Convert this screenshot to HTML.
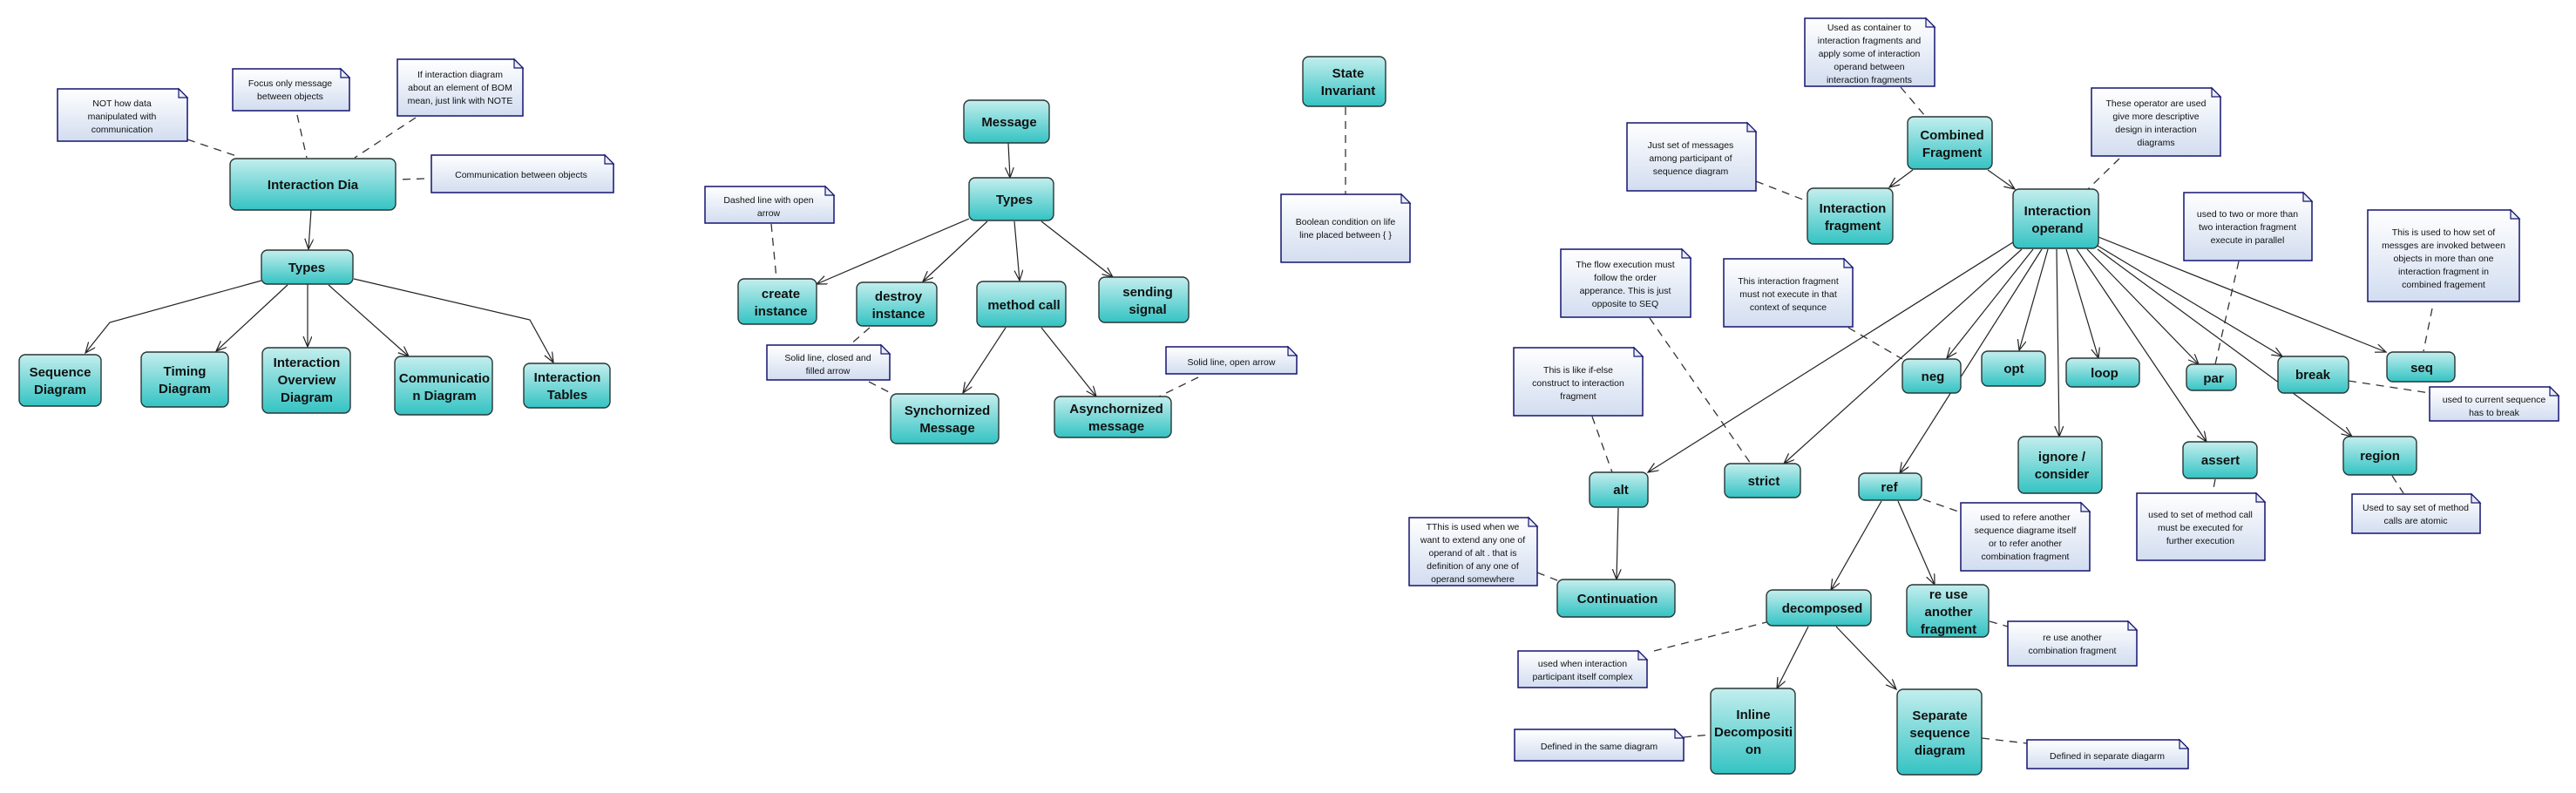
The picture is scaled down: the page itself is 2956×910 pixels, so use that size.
<!DOCTYPE html>
<html><head><meta charset="utf-8"><style>
html,body{margin:0;padding:0;background:#fff;}
svg{display:block;}
.nt{font-family:"Liberation Sans",Arial,sans-serif;font-weight:bold;font-size:15px;fill:#111;text-anchor:middle;}
.tt{font-family:"Liberation Sans",Arial,sans-serif;font-size:10.5px;fill:#111;text-anchor:middle;}
.ln{stroke:#222;stroke-width:1.2;fill:none;marker-end:url(#ar);}
.ds{stroke:#333;stroke-width:1.3;fill:none;stroke-dasharray:9 7;}
.nd{fill:url(#ng);stroke:#2a3535;stroke-width:1.4;}
.no{fill:url(#og);stroke:#141470;stroke-width:1.5;}
.fo{fill:#e8eef8;stroke:#141470;stroke-width:1.2;}
</style></head><body>
<svg width="2956" height="910" viewBox="0 0 2956 910" xmlns="http://www.w3.org/2000/svg">
<defs>
<linearGradient id="ng" x1="0" y1="0" x2="0" y2="1"><stop offset="0" stop-color="#c4eeee"/><stop offset="1" stop-color="#34c3c3"/></linearGradient>
<linearGradient id="og" x1="0" y1="0" x2="0" y2="1"><stop offset="0" stop-color="#ffffff"/><stop offset="1" stop-color="#d2ddf0"/></linearGradient>
<marker id="ar" markerUnits="userSpaceOnUse" markerWidth="14" markerHeight="12" refX="12" refY="5" orient="auto"><path d="M0,0 L12,5 L0,10" fill="none" stroke="#222" stroke-width="1.2"/></marker>
</defs>

<!-- solid connectors -->
<line class="ln" x1="357" y1="241" x2="354" y2="286"/>
<polyline class="ln" points="300,322 126,370 98,405"/>
<line class="ln" x1="330" y1="327" x2="248" y2="403"/>
<line class="ln" x1="353" y1="326" x2="353" y2="398"/>
<line class="ln" x1="377" y1="327" x2="469" y2="409"/>
<polyline class="ln" points="406,320 608,367 635,416"/>
<line class="ln" x1="1157" y1="164" x2="1159" y2="204"/>
<line class="ln" x1="1112" y1="251" x2="937" y2="326"/>
<line class="ln" x1="1133" y1="254" x2="1059" y2="323"/>
<line class="ln" x1="1164" y1="254" x2="1170" y2="322"/>
<line class="ln" x1="1195" y1="254" x2="1277" y2="318"/>
<line class="ln" x1="1154" y1="376" x2="1105" y2="451"/>
<line class="ln" x1="1195" y1="376" x2="1258" y2="455"/>
<line class="ln" x1="2195" y1="195" x2="2168" y2="215"/>
<line class="ln" x1="2281" y1="195" x2="2312" y2="217"/>
<line class="ln" x1="2408" y1="272" x2="2738" y2="404"/>
<line class="ln" x1="2407" y1="282" x2="2619" y2="409"/>
<line class="ln" x1="2407" y1="286" x2="2699" y2="501"/>
<line class="ln" x1="2395" y1="286" x2="2523" y2="418"/>
<line class="ln" x1="2383" y1="286" x2="2532" y2="507"/>
<line class="ln" x1="2371" y1="286" x2="2408" y2="411"/>
<line class="ln" x1="2360" y1="286" x2="2363" y2="501"/>
<line class="ln" x1="2350" y1="286" x2="2317" y2="402"/>
<line class="ln" x1="2333" y1="286" x2="2234" y2="411"/>
<line class="ln" x1="2343" y1="286" x2="2180" y2="543"/>
<line class="ln" x1="2310" y1="278" x2="1891" y2="542"/>
<line class="ln" x1="2320" y1="286" x2="2047" y2="532"/>
<line class="ln" x1="1857" y1="583" x2="1855" y2="665"/>
<line class="ln" x1="2159" y1="575" x2="2101" y2="677"/>
<line class="ln" x1="2178" y1="575" x2="2220" y2="671"/>
<line class="ln" x1="2075" y1="719" x2="2039" y2="790"/>
<line class="ln" x1="2107" y1="719" x2="2176" y2="791"/>

<!-- dashed connectors -->
<line class="ds" x1="215" y1="160" x2="274" y2="180"/>
<line class="ds" x1="341" y1="132" x2="352" y2="181"/>
<line class="ds" x1="477" y1="135" x2="407" y2="181"/>
<line class="ds" x1="487" y1="205" x2="456" y2="206"/>
<line class="ds" x1="885" y1="257" x2="891" y2="320"/>
<line class="ds" x1="998" y1="376" x2="975" y2="396"/>
<line class="ds" x1="997" y1="438" x2="1024" y2="452"/>
<line class="ds" x1="1375" y1="433" x2="1330" y2="455"/>
<line class="ds" x1="1544" y1="123" x2="1544" y2="223"/>
<line class="ds" x1="2181" y1="100" x2="2209" y2="133"/>
<line class="ds" x1="2015" y1="208" x2="2074" y2="231"/>
<line class="ds" x1="2432" y1="182" x2="2396" y2="217"/>
<line class="ds" x1="2569" y1="300" x2="2542" y2="418"/>
<line class="ds" x1="2791" y1="354" x2="2781" y2="403"/>
<line class="ds" x1="2695" y1="437" x2="2788" y2="451"/>
<line class="ds" x1="2542" y1="550" x2="2539" y2="566"/>
<line class="ds" x1="2745" y1="546" x2="2758" y2="566"/>
<line class="ds" x1="2207" y1="573" x2="2250" y2="588"/>
<line class="ds" x1="1893" y1="365" x2="2009" y2="532"/>
<line class="ds" x1="2121" y1="376" x2="2183" y2="412"/>
<line class="ds" x1="1827" y1="478" x2="1850" y2="542"/>
<line class="ds" x1="1764" y1="657" x2="1787" y2="666"/>
<line class="ds" x1="1898" y1="747" x2="2027" y2="714"/>
<line class="ds" x1="2283" y1="713" x2="2304" y2="719"/>
<line class="ds" x1="1932" y1="846" x2="1963" y2="843"/>
<line class="ds" x1="2274" y1="847" x2="2326" y2="853"/>

<!-- nodes -->
<g>
<rect class="nd" x="264" y="182" width="190" height="59" rx="7"/><text class="nt" x="359" y="217">Interaction Dia</text>
<rect class="nd" x="300" y="287" width="105" height="39" rx="7"/><text class="nt" x="352" y="312">Types</text>
<rect class="nd" x="22" y="407" width="94" height="59" rx="7"/><text class="nt" x="69" y="432">Sequence</text><text class="nt" x="69" y="452">Diagram</text>
<rect class="nd" x="162" y="404" width="100" height="63" rx="7"/><text class="nt" x="212" y="431">Timing</text><text class="nt" x="212" y="451">Diagram</text>
<rect class="nd" x="301" y="399" width="101" height="75" rx="7"/><text class="nt" x="352" y="421">Interaction</text><text class="nt" x="352" y="441">Overview</text><text class="nt" x="352" y="461">Diagram</text>
<rect class="nd" x="453" y="409" width="112" height="67" rx="7"/><text class="nt" x="510" y="439">Communicatio</text><text class="nt" x="510" y="459">n Diagram</text>
<rect class="nd" x="601" y="417" width="99" height="51" rx="7"/><text class="nt" x="651" y="438">Interaction</text><text class="nt" x="651" y="458">Tables</text>

<rect class="nd" x="1106" y="115" width="98" height="49" rx="7"/><text class="nt" x="1158" y="145">Message</text>
<rect class="nd" x="1112" y="204" width="97" height="49" rx="7"/><text class="nt" x="1164" y="234">Types</text>
<rect class="nd" x="1495" y="65" width="95" height="57" rx="7"/><text class="nt" x="1547" y="89">State</text><text class="nt" x="1547" y="109">Invariant</text>
<rect class="nd" x="847" y="320" width="90" height="52" rx="7"/><text class="nt" x="896" y="342">create</text><text class="nt" x="896" y="362">instance</text>
<rect class="nd" x="983" y="324" width="92" height="50" rx="7"/><text class="nt" x="1031" y="345">destroy</text><text class="nt" x="1031" y="365">instance</text>
<rect class="nd" x="1121" y="323" width="102" height="52" rx="7"/><text class="nt" x="1175" y="355">method call</text>
<rect class="nd" x="1261" y="318" width="103" height="52" rx="7"/><text class="nt" x="1317" y="340">sending</text><text class="nt" x="1317" y="360">signal</text>
<rect class="nd" x="1022" y="452" width="124" height="57" rx="7"/><text class="nt" x="1087" y="476">Synchornized</text><text class="nt" x="1087" y="496">Message</text>
<rect class="nd" x="1210" y="455" width="134" height="47" rx="7"/><text class="nt" x="1281" y="474">Asynchornized</text><text class="nt" x="1281" y="494">message</text>

<rect class="nd" x="2189" y="134" width="97" height="60" rx="7"/><text class="nt" x="2240" y="160">Combined</text><text class="nt" x="2240" y="180">Fragment</text>
<rect class="nd" x="2074" y="216" width="98" height="64" rx="7"/><text class="nt" x="2126" y="244">Interaction</text><text class="nt" x="2126" y="264">fragment</text>
<rect class="nd" x="2310" y="217" width="98" height="68" rx="7"/><text class="nt" x="2361" y="247">Interaction</text><text class="nt" x="2361" y="267">operand</text>
<rect class="nd" x="2183" y="412" width="67" height="39" rx="7"/><text class="nt" x="2218" y="437">neg</text>
<rect class="nd" x="2274" y="403" width="73" height="40" rx="7"/><text class="nt" x="2311" y="428">opt</text>
<rect class="nd" x="2371" y="411" width="84" height="33" rx="7"/><text class="nt" x="2415" y="433">loop</text>
<rect class="nd" x="2509" y="418" width="57" height="30" rx="7"/><text class="nt" x="2540" y="439">par</text>
<rect class="nd" x="2614" y="409" width="81" height="42" rx="7"/><text class="nt" x="2654" y="435">break</text>
<rect class="nd" x="2739" y="404" width="78" height="34" rx="7"/><text class="nt" x="2779" y="427">seq</text>
<rect class="nd" x="2316" y="501" width="96" height="65" rx="7"/><text class="nt" x="2366" y="529">ignore /</text><text class="nt" x="2366" y="549">consider</text>
<rect class="nd" x="2505" y="507" width="85" height="42" rx="7"/><text class="nt" x="2548" y="533">assert</text>
<rect class="nd" x="2689" y="501" width="84" height="44" rx="7"/><text class="nt" x="2731" y="528">region</text>
<rect class="nd" x="1824" y="542" width="67" height="40" rx="7"/><text class="nt" x="1860" y="567">alt</text>
<rect class="nd" x="1979" y="532" width="87" height="39" rx="7"/><text class="nt" x="2024" y="557">strict</text>
<rect class="nd" x="2133" y="543" width="72" height="31" rx="7"/><text class="nt" x="2168" y="564">ref</text>
<rect class="nd" x="1787" y="665" width="135" height="43" rx="7"/><text class="nt" x="1856" y="692">Continuation</text>
<rect class="nd" x="2027" y="677" width="120" height="41" rx="7"/><text class="nt" x="2091" y="703">decomposed</text>
<rect class="nd" x="2188" y="671" width="94" height="60" rx="7"/><text class="nt" x="2236" y="687">re use</text><text class="nt" x="2236" y="707">another</text><text class="nt" x="2236" y="727">fragment</text>
<rect class="nd" x="1963" y="790" width="97" height="98" rx="7"/><text class="nt" x="2012" y="825">Inline</text><text class="nt" x="2012" y="845">Decompositi</text><text class="nt" x="2012" y="865">on</text>
<rect class="nd" x="2177" y="791" width="97" height="98" rx="7"/><text class="nt" x="2226" y="826">Separate</text><text class="nt" x="2226" y="846">sequence</text><text class="nt" x="2226" y="866">diagram</text>
</g>

<!-- notes -->
<g>
<path class="no" d="M66,102 H205 L215,112 V162 H66 Z"/><path class="fo" d="M205,102 V112 H215 Z"/>
<text class="tt" x="140" y="122">NOT how data</text><text class="tt" x="140" y="137">manipulated with</text><text class="tt" x="140" y="152">communication</text>

<path class="no" d="M267,79 H391 L401,89 V127 H267 Z"/><path class="fo" d="M391,79 V89 H401 Z"/>
<text class="tt" x="333" y="99">Focus only message</text><text class="tt" x="333" y="114">between objects</text>

<path class="no" d="M456,68 H590 L600,78 V133 H456 Z"/><path class="fo" d="M590,68 V78 H600 Z"/>
<text class="tt" x="528" y="89">If interaction diagram</text><text class="tt" x="528" y="104">about an element of BOM</text><text class="tt" x="528" y="119">mean, just link with NOTE</text>

<path class="no" d="M495,178 H694 L704,188 V221 H495 Z"/><path class="fo" d="M694,178 V188 H704 Z"/>
<text class="tt" x="598" y="204">Communication between objects</text>

<path class="no" d="M809,214 H947 L957,224 V256 H809 Z"/><path class="fo" d="M947,214 V224 H957 Z"/>
<text class="tt" x="882" y="233">Dashed line with open</text><text class="tt" x="882" y="248">arrow</text>

<path class="no" d="M880,396 H1011 L1021,406 V436 H880 Z"/><path class="fo" d="M1011,396 V406 H1021 Z"/>
<text class="tt" x="950" y="414">Solid line, closed and</text><text class="tt" x="950" y="429">filled arrow</text>

<path class="no" d="M1338,398 H1478 L1488,408 V429 H1338 Z"/><path class="fo" d="M1478,398 V408 H1488 Z"/>
<text class="tt" x="1413" y="419">Solid line, open arrow</text>

<path class="no" d="M1470,223 H1608 L1618,233 V301 H1470 Z"/><path class="fo" d="M1608,223 V233 H1618 Z"/>
<text class="tt" x="1544" y="258">Boolean condition on life</text><text class="tt" x="1544" y="273">line placed between { }</text>

<path class="no" d="M2071,21 H2210 L2220,31 V99 H2071 Z"/><path class="fo" d="M2210,21 V31 H2220 Z"/>
<text class="tt" x="2145" y="35">Used as container to</text><text class="tt" x="2145" y="50">interaction fragments and</text><text class="tt" x="2145" y="65">apply some of interaction</text><text class="tt" x="2145" y="80">operand between</text><text class="tt" x="2145" y="95">interaction fragments</text>

<path class="no" d="M1867,141 H2005 L2015,151 V219 H1867 Z"/><path class="fo" d="M2005,141 V151 H2015 Z"/>
<text class="tt" x="1940" y="170">Just set of  messages</text><text class="tt" x="1940" y="185">among participant of</text><text class="tt" x="1940" y="200">sequence diagram</text>

<path class="no" d="M2400,101 H2538 L2548,111 V179 H2400 Z"/><path class="fo" d="M2538,101 V111 H2548 Z"/>
<text class="tt" x="2474" y="122">These operator are used</text><text class="tt" x="2474" y="137">give more descriptive</text><text class="tt" x="2474" y="152">design in interaction</text><text class="tt" x="2474" y="167">diagrams</text>

<path class="no" d="M2506,221 H2643 L2653,231 V299 H2506 Z"/><path class="fo" d="M2643,221 V231 H2653 Z"/>
<text class="tt" x="2579" y="249">used to two or more than</text><text class="tt" x="2579" y="264">two interaction fragment</text><text class="tt" x="2579" y="279">execute in parallel</text>

<path class="no" d="M2717,241 H2881 L2891,251 V346 H2717 Z"/><path class="fo" d="M2881,241 V251 H2891 Z"/>
<text class="tt" x="2804" y="270">This is used to how set of</text><text class="tt" x="2804" y="285">messges are invoked between</text><text class="tt" x="2804" y="300">objects in more than one</text><text class="tt" x="2804" y="315">interaction fragment in</text><text class="tt" x="2804" y="330">combined fragement</text>

<path class="no" d="M1791,286 H1930 L1940,296 V364 H1791 Z"/><path class="fo" d="M1930,286 V296 H1940 Z"/>
<text class="tt" x="1865" y="307">The flow execution must</text><text class="tt" x="1865" y="322">follow the order</text><text class="tt" x="1865" y="337">apperance. This is just</text><text class="tt" x="1865" y="352">opposite to SEQ</text>

<path class="no" d="M1978,297 H2116 L2126,307 V375 H1978 Z"/><path class="fo" d="M2116,297 V307 H2126 Z"/>
<text class="tt" x="2052" y="326">This interaction fragment</text><text class="tt" x="2052" y="341">must not execute in that</text><text class="tt" x="2052" y="356">context of sequnce</text>

<path class="no" d="M1737,399 H1875 L1885,409 V477 H1737 Z"/><path class="fo" d="M1875,399 V409 H1885 Z"/>
<text class="tt" x="1811" y="428">This is like if-else</text><text class="tt" x="1811" y="443">construct to interaction</text><text class="tt" x="1811" y="458">fragment</text>

<path class="no" d="M2788,444 H2926 L2936,454 V483 H2788 Z"/><path class="fo" d="M2926,444 V454 H2936 Z"/>
<text class="tt" x="2862" y="462">used to current sequence</text><text class="tt" x="2862" y="477">has to break</text>

<path class="no" d="M2452,566 H2589 L2599,576 V643 H2452 Z"/><path class="fo" d="M2589,566 V576 H2599 Z"/>
<text class="tt" x="2525" y="594">used to set of method call</text><text class="tt" x="2525" y="609">must be executed for</text><text class="tt" x="2525" y="624">further execution</text>

<path class="no" d="M2699,567 H2836 L2846,577 V612 H2699 Z"/><path class="fo" d="M2836,567 V577 H2846 Z"/>
<text class="tt" x="2772" y="586">Used to say set of method</text><text class="tt" x="2772" y="601">calls are atomic</text>

<path class="no" d="M2250,577 H2388 L2398,587 V655 H2250 Z"/><path class="fo" d="M2388,577 V587 H2398 Z"/>
<text class="tt" x="2324" y="597">used to refere another</text><text class="tt" x="2324" y="612">sequence diagrame itself</text><text class="tt" x="2324" y="627">or to refer another</text><text class="tt" x="2324" y="642">combination fragment</text>

<path class="no" d="M1617,594 H1754 L1764,604 V672 H1617 Z"/><path class="fo" d="M1754,594 V604 H1764 Z"/>
<text class="tt" x="1690" y="608">TThis is used when we</text><text class="tt" x="1690" y="623">want to extend any one of</text><text class="tt" x="1690" y="638">operand of alt . that is</text><text class="tt" x="1690" y="653">definition of any one of</text><text class="tt" x="1690" y="668">operand somewhere</text>

<path class="no" d="M2304,713 H2442 L2452,723 V764 H2304 Z"/><path class="fo" d="M2442,713 V723 H2452 Z"/>
<text class="tt" x="2378" y="735">re use another</text><text class="tt" x="2378" y="750">combination fragment</text>

<path class="no" d="M1742,747 H1880 L1890,757 V789 H1742 Z"/><path class="fo" d="M1880,747 V757 H1890 Z"/>
<text class="tt" x="1816" y="765">used when interaction</text><text class="tt" x="1816" y="780">participant itself complex</text>

<path class="no" d="M1738,837 H1922 L1932,847 V873 H1738 Z"/><path class="fo" d="M1922,837 V847 H1932 Z"/>
<text class="tt" x="1835" y="860">Defined in the same diagram</text>

<path class="no" d="M2326,849 H2501 L2511,859 V882 H2326 Z"/><path class="fo" d="M2501,849 V859 H2511 Z"/>
<text class="tt" x="2418" y="871">Defined in separate diagarm</text>
</g>
</svg>
</body></html>
